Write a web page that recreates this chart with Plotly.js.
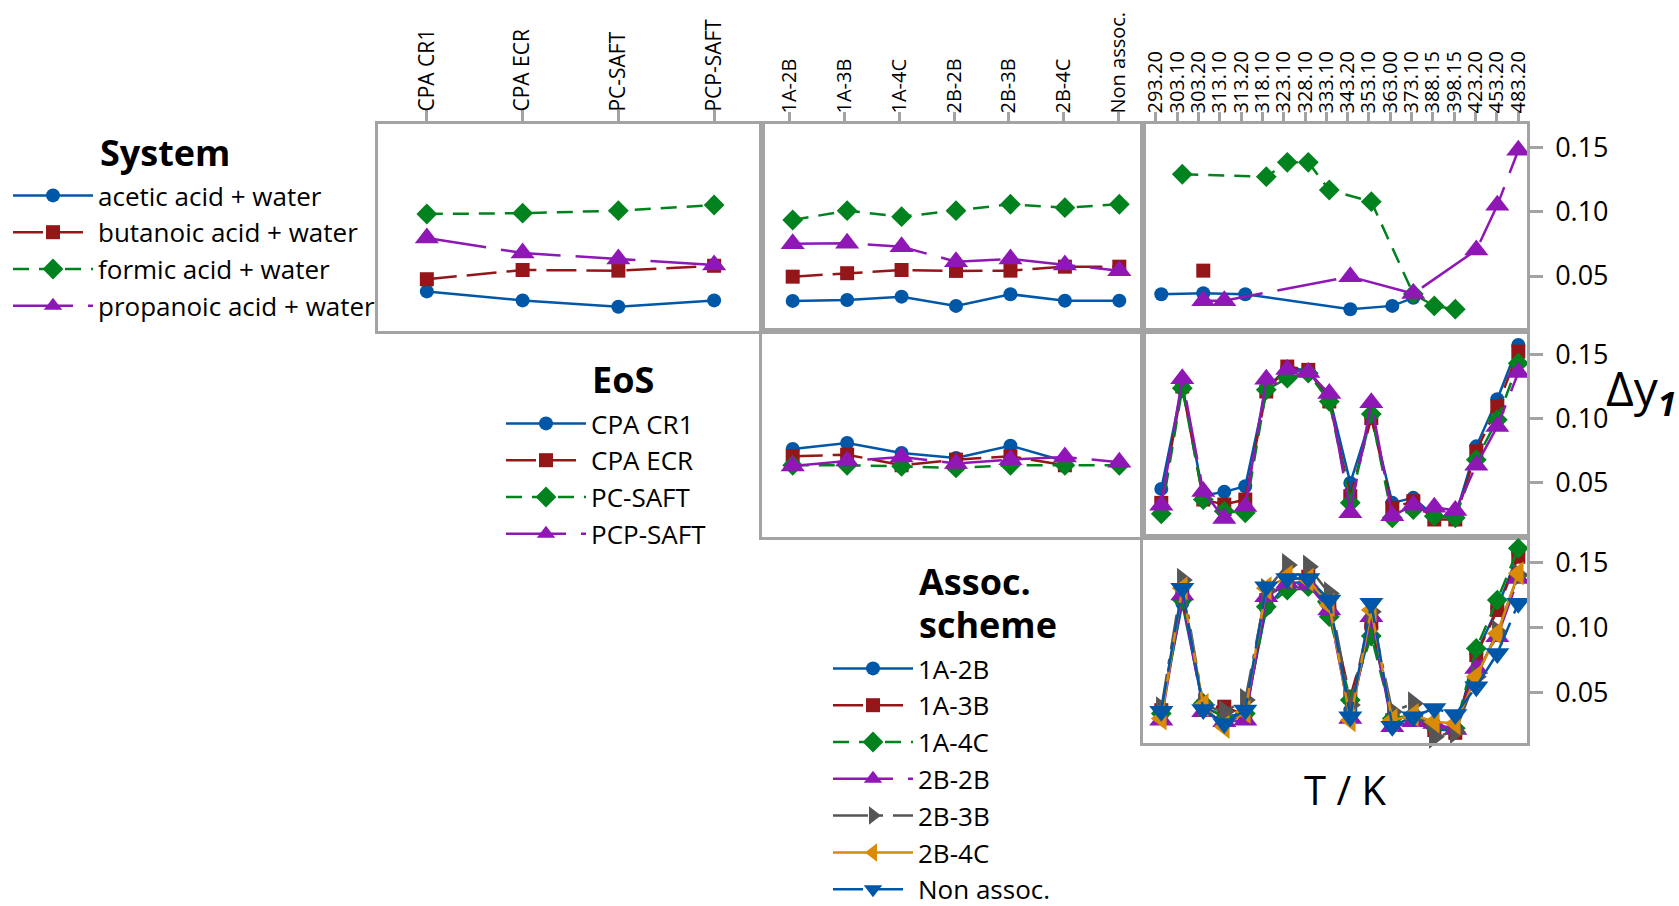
<!DOCTYPE html>
<html>
<head>
<meta charset="utf-8">
<script src="https://cdn.plot.ly/plotly-3.0.1.min.js"></script>
<style>
  html, body { margin: 0; padding: 0; background: #ffffff; }
  #chart { width: 1679px; height: 906px; }
</style>
</head>
<body>
<div id="chart"></div>
<script>
// ---- category labels ----
const eosLabels = ['CPA CR1', 'CPA ECR', 'PC-SAFT', 'PCP-SAFT'];
const assocLabels = ['1A-2B', '1A-3B', '1A-4C', '2B-2B', '2B-3B', '2B-4C', 'Non assoc.'];
const tempLabels = ['293.20', '303.10', '303.20', '313.10', '313.20', '318.10', '323.10', '328.10', '333.10',
                    '343.20', '353.10', '363.00', '373.10', '388.15', '398.15', '423.20', '453.20', '483.20'];

const systemNames = ['acetic acid + water', 'butanoic acid + water', 'formic acid + water', 'propanoic acid + water'];
const eosNames = eosLabels;
const assocNames = assocLabels;

// ---- mean deviation, system traces ----
const systemByEos = [
  [0.038, 0.031, 0.026, 0.031],
  [0.0475, 0.0547, 0.0542, 0.058],
  [0.0984, 0.099, 0.101, 0.1054],
  [0.0797, 0.0679, 0.0633, 0.0586]
];
const systemByAssoc = [
  [0.0306, 0.0313, 0.0339, 0.0267, 0.0358, 0.0308, 0.0308],
  [0.0495, 0.0522, 0.0547, 0.054, 0.0542, 0.0573, 0.0573],
  [0.0937, 0.101, 0.0963, 0.101, 0.106, 0.1033, 0.106],
  [0.0752, 0.0755, 0.0729, 0.0612, 0.0633, 0.0586, 0.0542]
];
const systemTemps = [
  ['293.20', '303.20', '313.20', '343.20', '363.00', '373.10'],
  ['303.20'],
  ['303.10', '318.10', '323.10', '328.10', '333.10', '353.10', '373.10', '388.15', '398.15'],
  ['303.20', '313.10', '343.20', '373.10', '423.20', '453.20', '483.20']
];
const systemByTemp = [
  [0.0358, 0.0366, 0.0358, 0.0241, 0.0267, 0.033],
  [0.0542],
  [0.1294, 0.1275, 0.1387, 0.1387, 0.1171, 0.108, 0.036, 0.0267, 0.0241],
  [0.0308, 0.0308, 0.0495, 0.0363, 0.0703, 0.1052, 0.1481]
];

// ---- mean deviation, EoS traces ----
const eosAssoc = [
  ['1A-2B', '1A-3B', '1A-4C', '2B-2B', '2B-3B', '2B-4C'],
  ['1A-2B', '1A-3B', '1A-4C', '2B-2B', '2B-3B', '2B-4C'],
  assocLabels,
  assocLabels
];
const eosByAssoc = [
  [0.0763, 0.081, 0.0732, 0.0693, 0.0789, 0.0667],
  [0.0706, 0.0719, 0.0636, 0.068, 0.0706, 0.0636],
  [0.0636, 0.0636, 0.0628, 0.0615, 0.0636, 0.0636, 0.0636],
  [0.063, 0.067, 0.070, 0.065, 0.068, 0.070, 0.066]
];
const eosByTemp = [
  [0.0451, 0.126, 0.040, 0.0428, 0.0472, 0.124, 0.1395, 0.138, 0.1174, 0.0498, 0.1018, 0.0342, 0.0381, 0.0238, 0.0238, 0.0784, 0.1153, 0.1577],
  [0.0342, 0.1252, 0.0368, 0.0329, 0.0368, 0.1213, 0.1408, 0.1382, 0.1135, 0.0394, 0.1005, 0.0303, 0.0355, 0.0212, 0.0212, 0.0745, 0.1096, 0.1525],
  [0.0256, 0.1239, 0.0368, 0.0277, 0.0264, 0.1226, 0.1317, 0.1356, 0.1135, 0.0342, 0.1036, 0.0225, 0.029, 0.0238, 0.0225, 0.068, 0.0992, 0.1434],
  [0.0324, 0.1312, 0.043, 0.022, 0.0313, 0.1309, 0.1385, 0.1361, 0.1197, 0.0264, 0.1125, 0.0241, 0.0324, 0.0308, 0.0282, 0.0636, 0.094, 0.1361]
];

// ---- mean deviation, association-scheme traces ----
const assocByTemp = [
  [0.0355, 0.1185, 0.0394, 0.0317, 0.0342, 0.1147, 0.1338, 0.1351, 0.1147, 0.0368, 0.1006, 0.0304, 0.0317, 0.0215, 0.0215, 0.0802, 0.1147, 0.1568],
  [0.0367, 0.1236, 0.0394, 0.0394, 0.0330, 0.1210, 0.1364, 0.1389, 0.1159, 0.0470, 0.1032, 0.0291, 0.0304, 0.0215, 0.0194, 0.0789, 0.1134, 0.1542],
  [0.0342, 0.1210, 0.0419, 0.0304, 0.0342, 0.1159, 0.1287, 0.1313, 0.1083, 0.0445, 0.0935, 0.0304, 0.0330, 0.0240, 0.0228, 0.0840, 0.1210, 0.1606],
  [0.0291, 0.1249, 0.0355, 0.0279, 0.0291, 0.1236, 0.1338, 0.1325, 0.1134, 0.0304, 0.1083, 0.0240, 0.0279, 0.0266, 0.0220, 0.0687, 0.0930, 0.1376],
  [0.0381, 0.1364, 0.0406, 0.0355, 0.0445, 0.1287, 0.1478, 0.1466, 0.1261, 0.0406, 0.1121, 0.0355, 0.0419, 0.0164, 0.0202, 0.0623, 0.0968, 0.1402],
  [0.0304, 0.1300, 0.0406, 0.0240, 0.0355, 0.1300, 0.1389, 0.1364, 0.1172, 0.0291, 0.1134, 0.0291, 0.0330, 0.0279, 0.0266, 0.0623, 0.0955, 0.1415],
  [0.0360, 0.1300, 0.0373, 0.0266, 0.0368, 0.1313, 0.1376, 0.1376, 0.1210, 0.0317, 0.1185, 0.0245, 0.0317, 0.0381, 0.0334, 0.0547, 0.0802, 0.1185]
];

// ---- series styling (shared by the three trace groups) ----
const seriesStyles = [
  { color: '#0057a8', symbol: 'circle',         size: 14, dash: 'solid' },
  { color: '#941618', symbol: 'square',         size: 14, dash: '30px,10px' },
  { color: '#00821e', symbol: 'diamond',        size: 16, dash: '16px,10px' },
  { color: '#8f17b6', symbol: 'triangle-up',    size: 21, dash: '60px,15px' },
  { color: '#555555', symbol: 'triangle-right', size: 21, dash: '35px,10px,5px,10px' },
  { color: '#d98a06', symbol: 'triangle-left',  size: 21, dash: 'solid' },
  { color: '#0057a8', symbol: 'triangle-down',  size: 21, dash: '30px,10px' }
];

function makeTrace(name, xs, ys, styleIdx, xa, ya, legendId, show) {
  const s = seriesStyles[styleIdx];
  return {
    type: 'scatter', mode: 'lines+markers', name: name,
    x: xs, y: ys, xaxis: xa, yaxis: ya,
    legend: legendId, legendgroup: legendId + '-' + styleIdx, showlegend: show,
    line: { color: s.color, width: 2.5, dash: s.dash },
    marker: { color: s.color, symbol: s.symbol, size: s.size },
    cliponaxis: false,
    hoverinfo: 'x+y+name'
  };
}
// empty carrier so a labelled tick axis gets its own overlaid subplot
function tickCarrier(xa, ya) {
  return { type: 'scatter', mode: 'none', x: [], y: [], xaxis: xa, yaxis: ya,
           showlegend: false, hoverinfo: 'skip' };
}

const traces = [];
// row 1: system traces
systemNames.forEach((n, i) => traces.push(makeTrace(n, eosLabels, systemByEos[i], i, 'x', 'y', 'legend', true)));
systemNames.forEach((n, i) => traces.push(makeTrace(n, assocLabels, systemByAssoc[i], i, 'x2', 'y2', 'legend', false)));
systemNames.forEach((n, i) => traces.push(makeTrace(n, systemTemps[i], systemByTemp[i], i, 'x3', 'y3', 'legend', false)));
// row 2: EoS traces
eosNames.forEach((n, i) => traces.push(makeTrace(n, eosAssoc[i], eosByAssoc[i], i, 'x4', 'y4', 'legend2', true)));
eosNames.forEach((n, i) => traces.push(makeTrace(n, tempLabels, eosByTemp[i], i, 'x5', 'y5', 'legend2', false)));
// row 3: association-scheme traces
assocNames.forEach((n, i) => traces.push(makeTrace(n, tempLabels, assocByTemp[i], i, 'x6', 'y6', 'legend3', true)));
traces.push(tickCarrier('x7', 'y2'));
traces.push(tickCarrier('x8', 'y3'));

// ---- panel geometry (pixels -> paper fractions) ----
const W = 1679, H = 906;
const fx = px => px / W;
const fy = px => 1 - px / H;
const col1 = [fx(378), fx(762)], col2 = [fx(762), fx(1143)], col3 = [fx(1143), fx(1527)];
const row1 = [fy(330.5), fy(123.5)], row2 = [fy(537), fy(330.5)], row3 = [fy(743), fy(537)];
const yRangeTop = [0.0075, 0.169];
const yRangeBottom = [0.0116, 0.1693];

// category spans of the point axes and of the labelled tick axes
const col1Range = [-0.51, 3.5];
const col2PointRange = [-0.564, 6.435], col2TickRange = [-0.512, 6.457];
const col3PointRange = [-0.871, 17.414], col3TickRange = [-0.595, 17.408];

const frameColor = '#a3a3a3';
const frame = { showline: true, linecolor: frameColor, linewidth: 2.5, mirror: true,
                showgrid: false, zeroline: false, fixedrange: true };
const topTicks = { side: 'top', ticks: 'outside', ticklen: 11, tickwidth: 2.5, tickcolor: frameColor,
                   tickangle: -90, ticklabelstandoff: -6 };

function pointAxis(labels, range, dom, anchor) {
  return Object.assign({}, frame, {
    type: 'category', categoryorder: 'array', categoryarray: labels,
    range: range, domain: dom, anchor: anchor, showticklabels: false, ticks: ''
  });
}
function tickAxis(labels, range, over, anchor, size) {
  return Object.assign({}, topTicks, {
    type: 'linear', overlaying: over, anchor: anchor, range: range,
    tickmode: 'array', tickvals: labels.map((_, i) => i), ticktext: labels,
    showline: false, showgrid: false, zeroline: false, fixedrange: true,
    tickfont: { size: size, color: '#000' }
  });
}
function valAxis(range, dom, anchor, labelled) {
  const ax = Object.assign({}, frame, { range: range, domain: dom, anchor: anchor });
  if (labelled) {
    Object.assign(ax, { side: 'right', ticks: 'outside', ticklen: 13, tickwidth: 2.5, tickcolor: frameColor,
                        tick0: 0, dtick: 0.05, tickformat: '.2f', ticklabelstandoff: 7,
                        tickfont: { size: 27, color: '#000' } });
  } else {
    Object.assign(ax, { showticklabels: false, ticks: '' });
  }
  return ax;
}

const legendBase = {
  orientation: 'v', xanchor: 'left', yanchor: 'top', xref: 'paper', yref: 'paper',
  bgcolor: 'rgba(0,0,0,0)', borderwidth: 0, itemwidth: 80, tracegroupgap: 0,
  font: { size: 26, color: '#000' }, itemclick: false, itemdoubleclick: false
};

const titleFont = { size: 36, color: '#000', weight: 'bold' };
function note(text, xpx, ypx, font, xanchor) {
  return { text: text, x: fx(xpx), y: fy(ypx), xref: 'paper', yref: 'paper',
           xanchor: xanchor || 'left', yanchor: 'middle', showarrow: false, font: font };
}

const xaxis1 = Object.assign({}, frame, topTicks, {
  type: 'category', categoryorder: 'array', categoryarray: eosLabels,
  range: col1Range, domain: col1, anchor: 'y', tickfont: { size: 21, color: '#000' }
});

const layout = {
  width: W, height: H,
  margin: { l: 0, r: 0, t: 0, b: 0, autoexpand: false },
  paper_bgcolor: '#ffffff', plot_bgcolor: '#ffffff',
  font: { family: 'Open Sans, Noto Sans, sans-serif', color: '#000' },
  showlegend: true,
  xaxis:  xaxis1,
  xaxis2: pointAxis(assocLabels, col2PointRange, col2, 'y2'),
  xaxis3: pointAxis(tempLabels,  col3PointRange, col3, 'y3'),
  xaxis4: pointAxis(assocLabels, col2PointRange, col2, 'y4'),
  xaxis5: pointAxis(tempLabels,  col3PointRange, col3, 'y5'),
  xaxis6: pointAxis(tempLabels,  col3PointRange, col3, 'y6'),
  xaxis7: tickAxis(assocLabels, col2TickRange, 'x2', 'y2', 20),
  xaxis8: tickAxis(tempLabels,  col3TickRange, 'x3', 'y3', 20),
  yaxis:  valAxis(yRangeTop, row1, 'x',  false),
  yaxis2: valAxis(yRangeTop, row1, 'x2', false),
  yaxis3: valAxis(yRangeTop, row1, 'x3', true),
  yaxis4: valAxis(yRangeTop, row2, 'x4', false),
  yaxis5: valAxis(yRangeTop, row2, 'x5', true),
  yaxis6: valAxis(yRangeBottom, row3, 'x6', true),
  legend:  Object.assign({}, legendBase, { x: fx(8),   y: fy(172) }),
  legend2: Object.assign({}, legendBase, { x: fx(501), y: fy(400) }),
  legend3: Object.assign({}, legendBase, { x: fx(828), y: fy(645) }),
  annotations: [
    note('System', 98, 153, titleFont),
    note('EoS', 590, 380, titleFont),
    note('Assoc.', 917, 581, titleFont),
    note('scheme', 917, 624, titleFont),
    note('T / K', 1345, 789, { size: 40, color: '#000' }, 'center'),
    note('Δy<sub><b><i>1</i></b></sub>', 1678, 390, { size: 48, color: '#000', family: 'Open Sans' }, 'right')
  ]
};

Plotly.newPlot('chart', traces, layout, { displayModeBar: false, responsive: false });
</script>
</body>
</html>
